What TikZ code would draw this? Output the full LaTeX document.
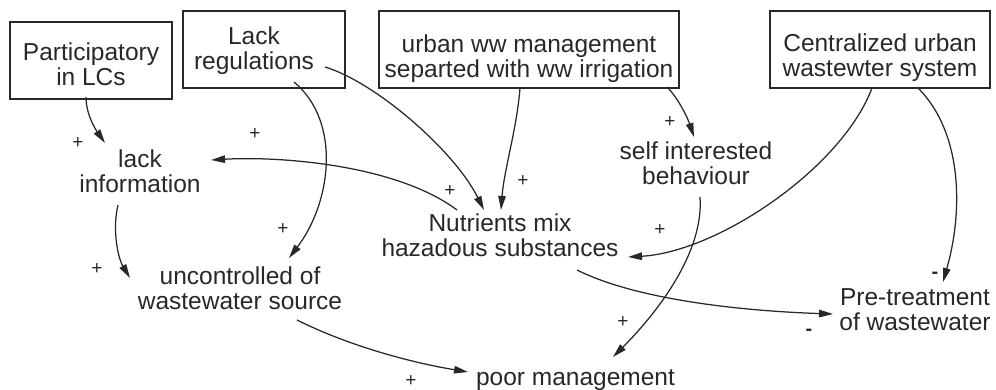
\documentclass[tikz,border=0pt]{standalone}
\usepackage{fontspec}
\setmainfont{Liberation Sans}
\usetikzlibrary{arrows.meta,calc}
\definecolor{ink}{RGB}{40,40,40}
% invisible struts that fix the first-line height and last-line depth
\newcommand\upstrut[1]{\rule{0pt}{#1pt}}
\newcommand\dnstrut{\rule[-6pt]{0pt}{6pt}}
\begin{document}
\begin{tikzpicture}[x=1pt,y=-1pt,
  box/.style={draw=ink, line width=1.6pt, text=ink, align=center, inner sep=0pt,
    font=\fontsize{24.5}{25}\selectfont, minimum height=77pt},
  var/.style={text=ink, align=center, inner sep=0pt, font=\fontsize{24.5}{25}\selectfont},
  pol/.style={text=ink, inner sep=0pt, font=\fontsize{19}{19}\selectfont},
  neg/.style={text=ink, inner sep=0pt, font=\fontsize{20}{20}\selectfont\bfseries},
  conn/.style={draw=ink, line width=1.25pt, -{Triangle[length=14pt,width=7.5pt]}}]
\useasboundingbox (0,0) rectangle (996,390);

% exogenous factors (boxed)
\node[box, minimum width=162pt] (part) at (91,60.5)
  {\upstrut{32}Participatory\\in LCs\dnstrut};
\node[box, minimum width=162pt] (reg) at (264,49.5)
  {\upstrut{22}Lack\rule{20pt}{0pt}\\regulations\rule{20pt}{0pt}\dnstrut};
\node[box, minimum width=300pt] (urban) at (529,49.5)
  {\upstrut{38}urban ww management\\separted with ww irrigation\dnstrut};
\node[box, minimum width=220pt] (cent) at (880,49.5)
  {\upstrut{36}Centralized urban\\wastewter system\dnstrut};

% variables
\node[var] (info) at (140,174.5) {\upstrut{18}lack\\information\dnstrut};
\node[var] (unc)  at (240,290.5) {\upstrut{18}uncontrolled of\\wastewater source\dnstrut};
\node[var] (nut)  at (500,238.5) {\upstrut{18}Nutrients mix\\hazadous substances\dnstrut};
\node[var] (self) at (696,166.5) {\upstrut{18}self interested\\behaviour\dnstrut};
\node[var] (pre)  at (915,311.5) {\upstrut{18}Pre-treatment\\of wastewater\dnstrut};
\node[var] (poor) at (575.5,379) {\upstrut{18}poor management\dnstrut};

% causal links
\draw[conn] ($(part)+(-5,36.5)$) .. controls +(0,18) and +(-9,-13) .. ($(info)+(-35,-31.5)$);
\draw[conn] ($(nut)+(-43,-28.5)$) .. controls +(-60,-45) and +(70,-4) .. ($(info)+(71,-14.5)$);
\draw[conn] ($(reg)+(30,32.5)$) .. controls +(48,40) and +(42,-55) .. ($(unc)+(49,-32.5)$);
\draw[conn] ($(reg)+(61,17.5)$) .. controls +(50,15) and +(-30,-60) .. ($(nut)+(-16,-28.5)$);
\draw[conn] ($(urban)+(-9,38.5)$) .. controls +(-3,40) and +(3,-40) .. ($(nut)+(1,-28.5)$);
\draw[conn] ($(urban)+(138,37.5)$) .. controls +(12,12) and +(-6,-18) .. ($(self)+(-2,-29.5)$);
\draw[conn] ($(cent)+(-8,38.5)$) .. controls +(-30,80) and +(90,-5) .. ($(nut)+(128,18.5)$);
\draw[conn] ($(cent)+(38,38.5)$) .. controls +(45,45) and +(20,-70) .. ($(pre)+(28,-29.5)$);
\draw[conn] ($(self)+(4,30.5)$) .. controls +(4,55) and +(45,-45) .. ($(poor)+(37.5,-22)$);
\draw[conn] ($(nut)+(77,31.5)$) .. controls +(60,30) and +(-90,-3) .. ($(pre)+(-82,2.5)$);
\draw[conn] ($(info)+(-22,30.5)$) .. controls +(-6,25) and +(-12,-20) .. ($(unc)+(-110,-12.5)$);
\draw[conn] ($(unc)+(57,29.5)$) .. controls +(50,25) and +(-60,-10) .. ($(poor)+(-107.5,-7)$);

% link polarities
\node[pol] (sa) at (78,143) {+};
\node[pol] (sb) at (255,134) {+};
\node[pol] (sc) at (283,229) {+};
\node[pol] (sd) at (450,191) {+};
\node[pol] (se) at (523,181) {+};
\node[pol] (sf) at (670,122) {+};
\node[pol] (sg) at (660,230) {+};
\node[neg] (sh) at (935,275) {-};
\node[pol] (si) at (623,322) {+};
\node[neg] (sj) at (809,332) {-};
\node[pol] (sk) at (97,269) {+};
\node[pol] (sl) at (411,381) {+};
\end{tikzpicture}
\end{document}
